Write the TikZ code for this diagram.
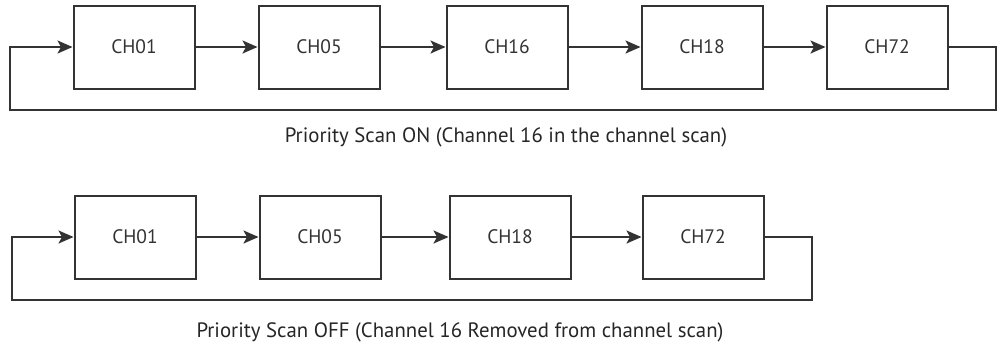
\documentclass[tikz,border=0pt]{standalone}
\usepackage{fontspec}
\setmainfont{PT Sans}
\usetikzlibrary{arrows.meta}
\usetikzlibrary{positioning}

\begin{document}
\begin{tikzpicture}[x=1pt, y=-1pt, on grid, >={Stealth[length=15pt,width=13pt,inset=3.5pt]},
    line width=2pt,
    chan/.style={draw=black!80, line width=2pt, fill=white, minimum width=121pt, minimum height=83pt,
      font=\fontsize{19.5}{22}\selectfont, text=black!80},
    link/.style={draw=black!80, line width=2pt, ->},
    caption/.style={font=\fontsize{20.8}{24}\selectfont, text=black!85}]
  \useasboundingbox[fill=white] (0,0) rectangle (999,346);
  % priority scan on
  \node[chan]               (a_01) at (134,47)    {CH01};
  \node[chan, right=185pt of a_01] (a_05) {CH05};
  \node[chan, right=188pt of a_05] (a_16) {CH16};
  \node[chan, right=195pt of a_16] (a_18) {CH18};
  \node[chan, right=185pt of a_18] (a_72) {CH72};
  \coordinate (a_r) at (996,110);
  \coordinate (a_l) at (10,110);
  \draw[link] (a_01) -- (a_05);
  \draw[link] (a_05) -- (a_16);
  \draw[link] (a_16) -- (a_18);
  \draw[link] (a_18) -- (a_72);
  \draw[link] (a_72.east) -| (a_r) -- (a_l) |- (a_01.west);
  \node[caption] (cap_on) at (506,137) {Priority Scan ON (Channel 16 in the channel scan)};
  % priority scan off
  \node[chan]               (b_01) at (135,237)   {CH01};
  \node[chan, right=185pt of b_01] (b_05) {CH05};
  \node[chan, right=190pt of b_05] (b_18) {CH18};
  \node[chan, right=193pt of b_18] (b_72) {CH72};
  \coordinate (b_r) at (812,300);
  \coordinate (b_l) at (12,300);
  \draw[link] (b_01) -- (b_05);
  \draw[link] (b_05) -- (b_18);
  \draw[link] (b_18) -- (b_72);
  \draw[link] (b_72.east) -| (b_r) -- (b_l) |- (b_01.west);
  \node[caption] (cap_off) at (460,332) {Priority Scan OFF (Channel 16 Removed from channel scan)};
\end{tikzpicture}
\end{document}
